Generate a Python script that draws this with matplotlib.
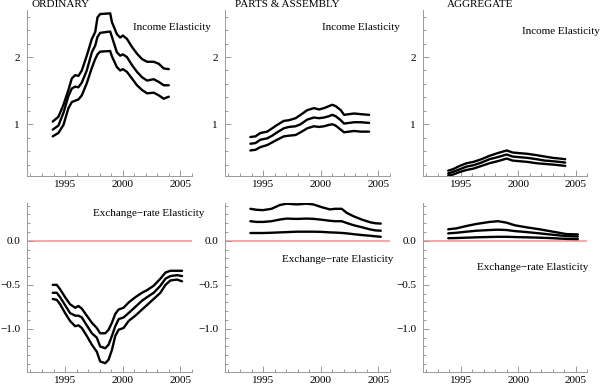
import matplotlib
matplotlib.use('Agg')
import matplotlib.pyplot as plt
from matplotlib.ticker import MultipleLocator, FuncFormatter

plt.rcParams['font.family'] = ['Liberation Serif', 'DejaVu Serif']
plt.rcParams['font.size'] = 8

# ---------------- data ----------------
titles = ["ORDINARY", "PARTS & ASSEMBLY", "AGGREGATE"]

# ORDINARY - income elasticity
years1 = [1993.93, 1994.42, 1994.86, 1995.29, 1995.58, 1995.87, 1996.16, 1996.45, 1996.88,
          1997.32, 1997.61, 1997.81, 1998.04, 1998.91, 1999.06, 1999.49, 1999.78, 2000.01,
          2000.36, 2000.80, 2001.23, 2001.67, 2002.10, 2002.68, 2003.12, 2003.55, 2003.99]
upper1 = [1.04, 1.11, 1.29, 1.51, 1.68, 1.73, 1.72, 1.80, 2.02, 2.27, 2.37, 2.59, 2.64, 2.65,
          2.52, 2.34, 2.29, 2.32, 2.27, 2.15, 2.05, 1.97, 1.93, 1.93, 1.90, 1.83, 1.82]
mid1 = [0.92, 0.98, 1.17, 1.42, 1.53, 1.56, 1.55, 1.62, 1.80, 2.07, 2.17, 2.30, 2.36, 2.38,
        2.30, 2.07, 2.02, 2.04, 2.00, 1.88, 1.78, 1.70, 1.65, 1.67, 1.63, 1.58, 1.58]
lower1 = [0.82, 0.87, 0.99, 1.24, 1.33, 1.35, 1.37, 1.43, 1.61, 1.84, 1.97, 2.04, 2.08, 2.09,
          2.01, 1.85, 1.80, 1.82, 1.78, 1.68, 1.58, 1.51, 1.46, 1.47, 1.43, 1.38, 1.41]

# PARTS & ASSEMBLY - income elasticity
years2 = [1993.90, 1994.34, 1994.77, 1995.35, 1995.79, 1996.22, 1996.80, 1997.24, 1997.82,
          1998.25, 1998.83, 1999.41, 1999.84, 2000.28, 2000.71, 2001.00, 2001.29, 2001.73,
          2002.02, 2002.45, 2002.89, 2003.47, 2004.19]
upper2 = [0.81, 0.82, 0.87, 0.89, 0.94, 0.99, 1.05, 1.06, 1.09, 1.14, 1.21, 1.24, 1.22, 1.24,
          1.27, 1.29, 1.27, 1.21, 1.14, 1.15, 1.16, 1.15, 1.14]
mid2 = [0.71, 0.72, 0.77, 0.79, 0.83, 0.88, 0.94, 0.96, 0.97, 1.00, 1.07, 1.10, 1.09, 1.10,
        1.12, 1.14, 1.12, 1.06, 1.01, 1.02, 1.03, 1.03, 1.02]
lower2 = [0.61, 0.62, 0.66, 0.69, 0.73, 0.77, 0.82, 0.83, 0.84, 0.88, 0.94, 0.97, 0.96, 0.97,
          0.99, 1.00, 0.98, 0.92, 0.88, 0.89, 0.90, 0.89, 0.89]

# AGGREGATE - income elasticity
years3 = [1993.9, 1994.3, 1994.9, 1995.5, 1996.1, 1996.8, 1997.5, 1998.2, 1999.0, 1999.5,
          2000.1, 2000.8, 2001.6, 2002.3, 2003.0, 2003.6, 2004.1]
upper3 = [0.31, 0.33, 0.38, 0.42, 0.44, 0.48, 0.53, 0.57, 0.61, 0.58, 0.57, 0.56, 0.54, 0.52,
          0.50, 0.49, 0.48]
mid3 = [0.27, 0.29, 0.33, 0.37, 0.39, 0.43, 0.48, 0.51, 0.55, 0.52, 0.51, 0.50, 0.48, 0.46,
        0.45, 0.44, 0.43]
lower3 = [0.24, 0.25, 0.29, 0.32, 0.34, 0.38, 0.42, 0.45, 0.49, 0.46, 0.45, 0.44, 0.42, 0.41,
          0.40, 0.39, 0.38]

# ORDINARY - exchange-rate elasticity
years4 = [1993.93, 1994.28, 1994.57, 1995.00, 1995.43, 1995.87, 1996.16, 1996.45, 1996.88,
          1997.32, 1997.75, 1998.04, 1998.48, 1998.77, 1999.06, 1999.35, 1999.64, 2000.07,
          2000.51, 2001.09, 2001.67, 2002.10, 2002.68, 2003.26, 2003.70, 2004.13, 2004.71,
          2005.14]
upper4 = [-0.50, -0.50, -0.55, -0.64, -0.72, -0.76, -0.74, -0.77, -0.85, -0.93, -0.99, -1.05,
          -1.05, -1.01, -0.93, -0.83, -0.78, -0.76, -0.70, -0.64, -0.59, -0.56, -0.51, -0.43,
          -0.36, -0.34, -0.34, -0.34]
mid4 = [-0.59, -0.59, -0.64, -0.73, -0.82, -0.85, -0.85, -0.87, -0.96, -1.05, -1.10, -1.20,
        -1.22, -1.18, -1.08, -0.97, -0.89, -0.87, -0.82, -0.75, -0.68, -0.64, -0.59, -0.51,
        -0.43, -0.40, -0.39, -0.40]
lower4 = [-0.66, -0.67, -0.72, -0.82, -0.91, -0.97, -0.96, -0.99, -1.08, -1.18, -1.26, -1.37,
          -1.39, -1.35, -1.24, -1.08, -1.01, -0.99, -0.91, -0.85, -0.78, -0.73, -0.66, -0.59,
          -0.50, -0.45, -0.44, -0.46]

# PARTS & ASSEMBLY - exchange-rate elasticity
years5 = [1993.90, 1994.42, 1995.00, 1995.73, 1996.45, 1997.03, 1997.90, 1998.77, 1999.35,
          2000.07, 2000.80, 2001.23, 2001.81, 2002.25, 2002.83, 2003.55, 2004.28, 2004.71,
          2005.20]
upper5 = [0.364, 0.353, 0.349, 0.364, 0.407, 0.422, 0.414, 0.422, 0.414, 0.383, 0.357, 0.364,
          0.364, 0.318, 0.280, 0.242, 0.211, 0.200, 0.196]
mid5 = [0.223, 0.215, 0.215, 0.223, 0.242, 0.253, 0.249, 0.253, 0.250, 0.240, 0.228, 0.223,
        0.223, 0.203, 0.178, 0.155, 0.130, 0.119, 0.115]
lower5 = [0.089, 0.089, 0.089, 0.092, 0.096, 0.099, 0.104, 0.104, 0.104, 0.102, 0.096, 0.094,
          0.090, 0.085, 0.076, 0.066, 0.058, 0.052, 0.046]

# AGGREGATE - exchange-rate elasticity
years6 = [1993.9, 1994.62, 1995.49, 1996.36, 1997.52, 1998.25, 1998.97, 1999.70, 2000.71,
          2001.87, 2003.03, 2004.19, 2005.2]
upper6 = [0.131, 0.142, 0.169, 0.192, 0.215, 0.223, 0.207, 0.177, 0.154, 0.131, 0.104, 0.077,
          0.073]
mid6 = [0.085, 0.092, 0.104, 0.115, 0.123, 0.127, 0.123, 0.111, 0.100, 0.085, 0.069, 0.054,
        0.050]
lower6 = [0.030, 0.032, 0.036, 0.040, 0.044, 0.046, 0.046, 0.043, 0.040, 0.036, 0.030, 0.022,
          0.020]

income_panels = [(years1, upper1, mid1, lower1),
                 (years2, upper2, mid2, lower2),
                 (years3, upper3, mid3, lower3)]
exch_panels = [(years4, upper4, mid4, lower4),
               (years5, upper5, mid5, lower5),
               (years6, upper6, mid6, lower6)]

# ---------------- layout ----------------
W, H = 600, 386
fig = plt.figure(figsize=(6, 3.86), dpi=100)

col_px = [(27, 192), (225, 390), (423, 587)]
row_px = [(10, 176), (203, 372)]

axis_grey = '#9a9a9a'


def minus_fmt(v, pos):
    s = '%.1f' % v
    if s == '-0.0':
        s = '0.0'
    return s.replace('-', '\u2212')


def style(ax, top):
    for sp in ['top', 'right']:
        ax.spines[sp].set_visible(False)
    for sp in ['left', 'bottom']:
        ax.spines[sp].set_color(axis_grey)
        ax.spines[sp].set_linewidth(0.7)
    ax.set_xlim(1991.7, 2006.0)
    ax.xaxis.set_major_locator(MultipleLocator(5))
    ax.xaxis.set_minor_locator(MultipleLocator(1))
    if top:
        ax.set_ylim(0.23, 2.7)
        ax.yaxis.set_major_locator(MultipleLocator(1))
        ax.yaxis.set_minor_locator(MultipleLocator(0.2))
        ax.yaxis.set_major_formatter(FuncFormatter(lambda v, p: '%d' % round(v)))
    else:
        ax.set_ylim(-1.49, 0.43)
        ax.yaxis.set_major_locator(MultipleLocator(0.5))
        ax.yaxis.set_minor_locator(MultipleLocator(0.1))
        ax.yaxis.set_major_formatter(FuncFormatter(minus_fmt))
    ax.tick_params(which='both', direction='in', color=axis_grey, width=0.7,
                   top=False, right=False, labelsize=8, labelcolor='black')
    ax.tick_params(which='major', length=4.5)
    ax.tick_params(which='minor', length=2.2)
    ax.tick_params(axis='y', pad=5)
    ax.tick_params(axis='x', pad=3)
    ax.patch.set_alpha(0)


for r, panels in enumerate([income_panels, exch_panels]):
    t, b = row_px[r]
    for c, (yrs, up, md, lo) in enumerate(panels):
        l, rr = col_px[c]
        ax = fig.add_axes([l / W, 1 - b / H, (rr - l) / W, (b - t) / H])
        style(ax, r == 0)
        if r == 1:
            ax.axhline(0.0, color='#ff9e9e', lw=1.3, zorder=1)
        for series in (up, md, lo):
            ax.plot(yrs, series, color='black', lw=1.7, zorder=3,
                    solid_joinstyle='round', solid_capstyle='round')

# titles
title_x = [32, 235, 447]
for x, s in zip(title_x, titles):
    fig.text(x / W, 1 - 4.5 / H, s, ha='left', va='center', fontsize=8)

# annotations
inc_pos = [(133, 27), (322, 27), (522, 31)]
for x, y in inc_pos:
    fig.text(x / W, 1 - y / H, 'Income Elasticity', ha='left', va='center', fontsize=8)
exch_pos = [(93, 214), (282, 260), (477, 267)]
for x, y in exch_pos:
    fig.text(x / W, 1 - y / H, 'Exchange\u2212rate Elasticity', ha='left', va='center',
             fontsize=8)

fig.savefig('out.png', dpi=100)
